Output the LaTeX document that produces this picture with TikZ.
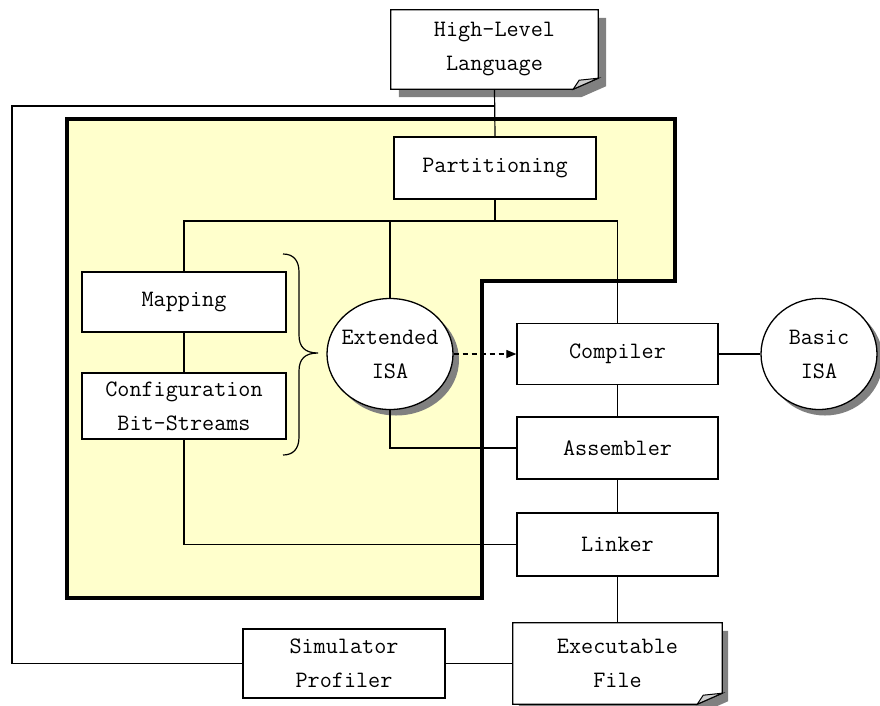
\documentclass[tikz,border=0pt]{standalone}
\usepackage{fontspec}
\usetikzlibrary{shapes.geometric,arrows.meta,shadows,backgrounds}

\definecolor{panelfill}{RGB}{255,255,204}
\definecolor{shadowgray}{RGB}{128,128,128}
\definecolor{foldgray}{RGB}{205,205,205}

% outline of a sheet with its lower right corner turned up
\newcommand\foldedoutline[1]{(#1.north west) -- (#1.north east) -- ([yshift=11pt]#1.south east) -- ([xshift=-25pt]#1.south east) -- (#1.south west) -- cycle}
\newcommand\foldflap[1]{([xshift=-25pt]#1.south east) -- ([xshift=-19pt,yshift=9pt]#1.south east) -- ([yshift=11pt]#1.south east) -- cycle}

\tikzset{
  every node/.style={font=\fontsize{23.5}{34}\selectfont\ttfamily},
  box/.style={draw, fill=white, line width=1.3pt, rectangle, minimum width=202pt,
              minimum height=62pt, inner sep=0pt, align=center},
  sheet/.style={rectangle, minimum width=208pt, minimum height=80pt, inner sep=0pt, align=center},
  isa/.style={ellipse, draw, fill=white, line width=1.3pt, inner sep=-6pt, align=center,
              drop shadow={shadow xshift=6pt, shadow yshift=-6pt, fill=shadowgray, opacity=1}},
  wire/.style={line width=1.2pt},
  panel/.style={fill=panelfill, draw=black, line width=3.2pt, line join=miter},
}

\begin{document}
\begin{tikzpicture}[x=1pt,y=-1pt]
\useasboundingbox (0,0) rectangle (880,705);

% document sheets (text only; outlines go on the background layer)
\node[sheet, minimum width=207pt, minimum height=79pt] (hll) at (494.5,49.5) {High-Level\\Language};
\node[sheet, minimum width=209pt, minimum height=81pt] (exe) at (617.5,663.5) {Executable\\File};

\begin{scope}[on background layer]
  % hardware region
  \draw[panel] (67,119) -- (675,119) -- (675,281) -- (482,281) -- (482,598) -- (67,598) -- cycle;
  % sheet shadows
  \fill[shadowgray, transform canvas={xshift=8pt,yshift=-8pt}] \foldedoutline{hll};
  \fill[shadowgray, transform canvas={xshift=6pt,yshift=-8pt}] \foldedoutline{exe};
  % sheets
  \filldraw[fill=white, line width=1.3pt, line join=miter] \foldedoutline{hll};
  \filldraw[fill=white, line width=1.3pt, line join=miter] \foldedoutline{exe};
  \filldraw[fill=foldgray, line width=1pt] \foldflap{hll};
  \filldraw[fill=foldgray, line width=1pt] \foldflap{exe};
\end{scope}

% process boxes
\node[box] (part) at (495,168) {Partitioning};
\node[box, minimum width=204pt, minimum height=60pt] (map) at (184,302) {Mapping};
\node[box, minimum width=204pt, minimum height=66pt] (conf) at (184,406) {Configuration\\Bit-Streams};
\node[box, minimum width=201pt, minimum height=61pt] (comp) at (617.5,354) {Compiler};
\node[box, minimum width=201pt] (asm) at (617.5,448) {Assembler};
\node[box, minimum width=201pt, minimum height=63pt] (link) at (617.5,544.5) {Linker};
\node[box, minimum height=69pt] (sim) at (344,663.5) {Simulator\\Profiler};

% instruction sets
\node[isa, minimum width=126pt, minimum height=111pt] (ext) at (390,354) {Extended\\ISA};
\node[isa, minimum width=116pt, minimum height=111pt] (basic) at (819,354) {Basic\\ISA};

% junction points
\coordinate (bus) at (0,221);
\coordinate (fbL) at (12,106);

% connectors
\draw[wire] (hll.south) -- (part.north);
\draw[wire] (part.south) -- (part.south |- bus);
\draw[wire] (map.north) |- (comp.north |- bus) -- (comp.north);
\draw[wire] (ext.north |- bus) -- (ext.north);
\draw[wire] (map.south) -- (conf.north);
\draw[wire] (conf.south) |- (link.west);
\draw[wire] (ext.south) |- (asm.west);
\draw[wire] (comp.south) -- (asm.north);
\draw[wire] (asm.south) -- (link.north);
\draw[wire] (link.south) -- (exe.north);
\draw[wire] (comp.east) -- (basic.west);
\draw[wire, dash pattern=on 5pt off 4pt, -{Triangle[length=10pt,width=8pt]}] (ext.east) -- (comp.west);
\draw[wire] (exe.west) -- (sim.east);
\draw[wire] (sim.west) -| (fbL) -- (fbL -| hll.south);

% brace grouping Mapping and Configuration
\draw[wire] (283,254) .. controls (293,254) and (299,260) .. (299,272) -- (299,335)
  .. controls (299,347) and (305,353) .. (318,353)
  .. controls (305,353) and (299,359) .. (299,371) -- (299,437)
  .. controls (299,449) and (293,455) .. (283,455);
\end{tikzpicture}
\end{document}
